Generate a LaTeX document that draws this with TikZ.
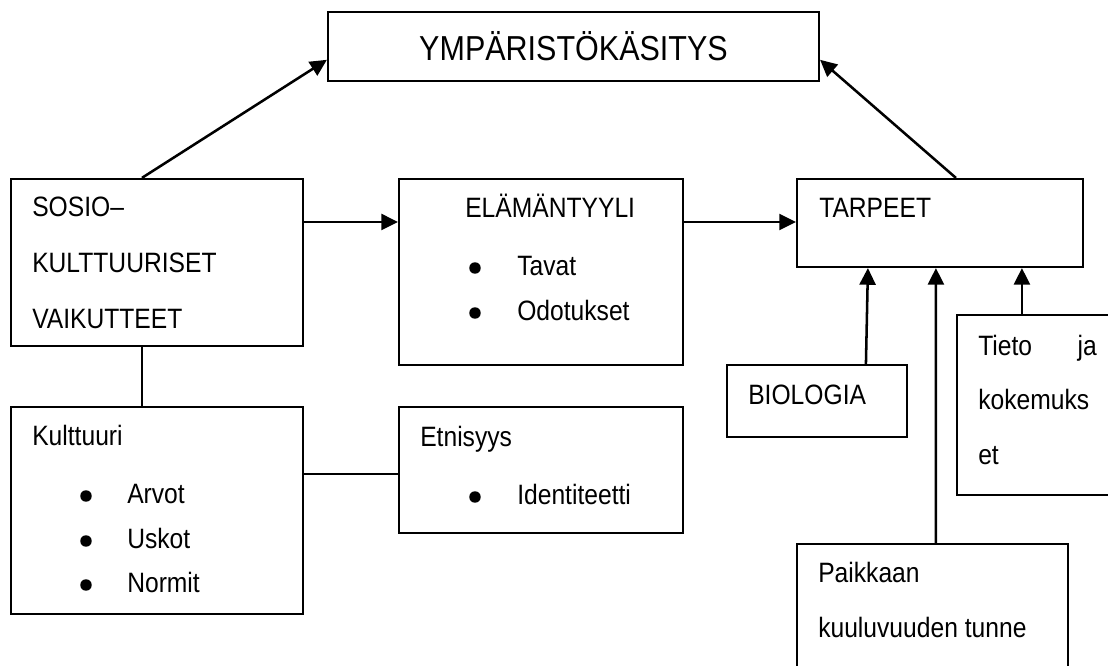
\documentclass[tikz,border=0pt]{standalone}
\usepackage{fontspec}
\setmainfont{Liberation Sans}[FakeStretch=0.88]
\usetikzlibrary{arrows.meta}

\tikzset{
  box/.style={draw,line width=1.6pt,inner sep=0pt},
  txt/.style={anchor=base west,inner sep=0pt,font=\fontsize{21}{25}\selectfont},
  dot/.style={circle,fill,inner sep=0pt,minimum size=8.6pt},
}

\begin{document}
\begin{tikzpicture}[x=0.75pt,y=-0.75pt,>={Triangle[length=12.5pt,width=12pt]}]
      \useasboundingbox (0,0) rectangle (1108,666);
      \clip (0,0) rectangle (1108,666);
      \fill[white] (0,0) rectangle (1108,666);

      \node[box,minimum width=368.3pt,minimum height=51.8pt,
        font=\fontsize{26}{30}\selectfont] (ymp) at (573.5,46.5) {YMPÄRISTÖKÄSITYS};
      \node[box,minimum width=219pt,minimum height=125.3pt] (sosio) at (157,262.5) {};
      \node[box,minimum width=213pt,minimum height=139.5pt] (elama) at (541,272) {};
      \node[box,minimum width=214.5pt,minimum height=66pt] (tarpeet) at (940,223) {};
      \node[box,minimum width=219pt,minimum height=155.3pt] (kult) at (157,510.5) {};
      \node[box,minimum width=213pt,minimum height=94.5pt] (etn) at (541,470) {};
      \node[box,minimum width=135pt,minimum height=54pt] (bio) at (817,401) {};
      \node[box,minimum width=240pt,minimum height=135pt] (tieto) at (1117,405) {};
      \node[box,minimum width=203.3pt,minimum height=117pt] (paik) at (932.5,622) {};

      %% texts
      \node[txt] (s1) at (32,217) {SOSIO–};
      \node[txt] (s2) at (32,273) {KULTTUURISET};
      \node[txt] (s3) at (32,329) {VAIKUTTEET};

      \node[txt] (e1) at (465,218) {ELÄMÄNTYYLI};
      \node[dot] (e2d) at (475,268) {};
      \node[txt] (e2) at (517,276) {Tavat};
      \node[dot] (e3d) at (475,313) {};
      \node[txt] (e3) at (517,321) {Odotukset};

      \node[txt] (t1) at (819,218) {TARPEET};

      \node[txt] (k1) at (32,446) {Kulttuuri};
      \node[dot] (k2d) at (86,496) {};
      \node[txt] (k2) at (127,504) {Arvot};
      \node[dot] (k3d) at (86,541) {};
      \node[txt] (k3) at (127,549) {Uskot};
      \node[dot] (k4d) at (86,585) {};
      \node[txt] (k4) at (127,593) {Normit};

      \node[txt] (n1) at (420,447) {Etnisyys};
      \node[dot] (n2d) at (475,497) {};
      \node[txt] (n2) at (517,505) {Identiteetti};

      \node[txt] (b1) at (748,405) {BIOLOGIA};

      \node[txt] (o1) at (978,356) {\makebox[89pt][s]{Tieto\hfill ja}};
      \node[txt] (o2) at (978,410) {kokemuks};
      \node[txt] (o3) at (978,465) {et};

      \node[txt] (p1) at (818,583) {Paikkaan};
      \node[txt] (p2) at (818,638) {kuuluvuuden tunne};

      %% connectors
      \begin{scope}[line width=1.9pt]
      \draw[->] ([xshift=99pt]sosio.north west) -- ([yshift=-10pt]ymp.west);
      \draw[->] ([xshift=120pt]tarpeet.north west) -- ([yshift=-10pt]ymp.east);
      \draw[->] ([yshift=30.4pt]sosio.east) -- ([yshift=30.4pt]sosio.east -| elama.west);
      \draw[->] ([yshift=37.5pt]elama.east) -- ([yshift=37.5pt]elama.east -| tarpeet.west);
      \draw[->] ([xshift=105pt]bio.north west) -- ([xshift=54pt]tarpeet.south west);
      \draw[->] ([xshift=105pt]paik.north west) -- ([xshift=105pt]tarpeet.south west);
      \draw[->] ([xshift=49.5pt]tieto.north west) -- ([xshift=169.5pt]tarpeet.south west);
      \end{scope}
      \draw[line width=1.6pt] ([xshift=99pt]sosio.south west) -- ([xshift=99pt]kult.north west);
      \draw[line width=1.6pt] ([yshift=27.4pt]kult.east) -- ([yshift=27.4pt]kult.east -| etn.west);
    \end{tikzpicture}
\end{document}
